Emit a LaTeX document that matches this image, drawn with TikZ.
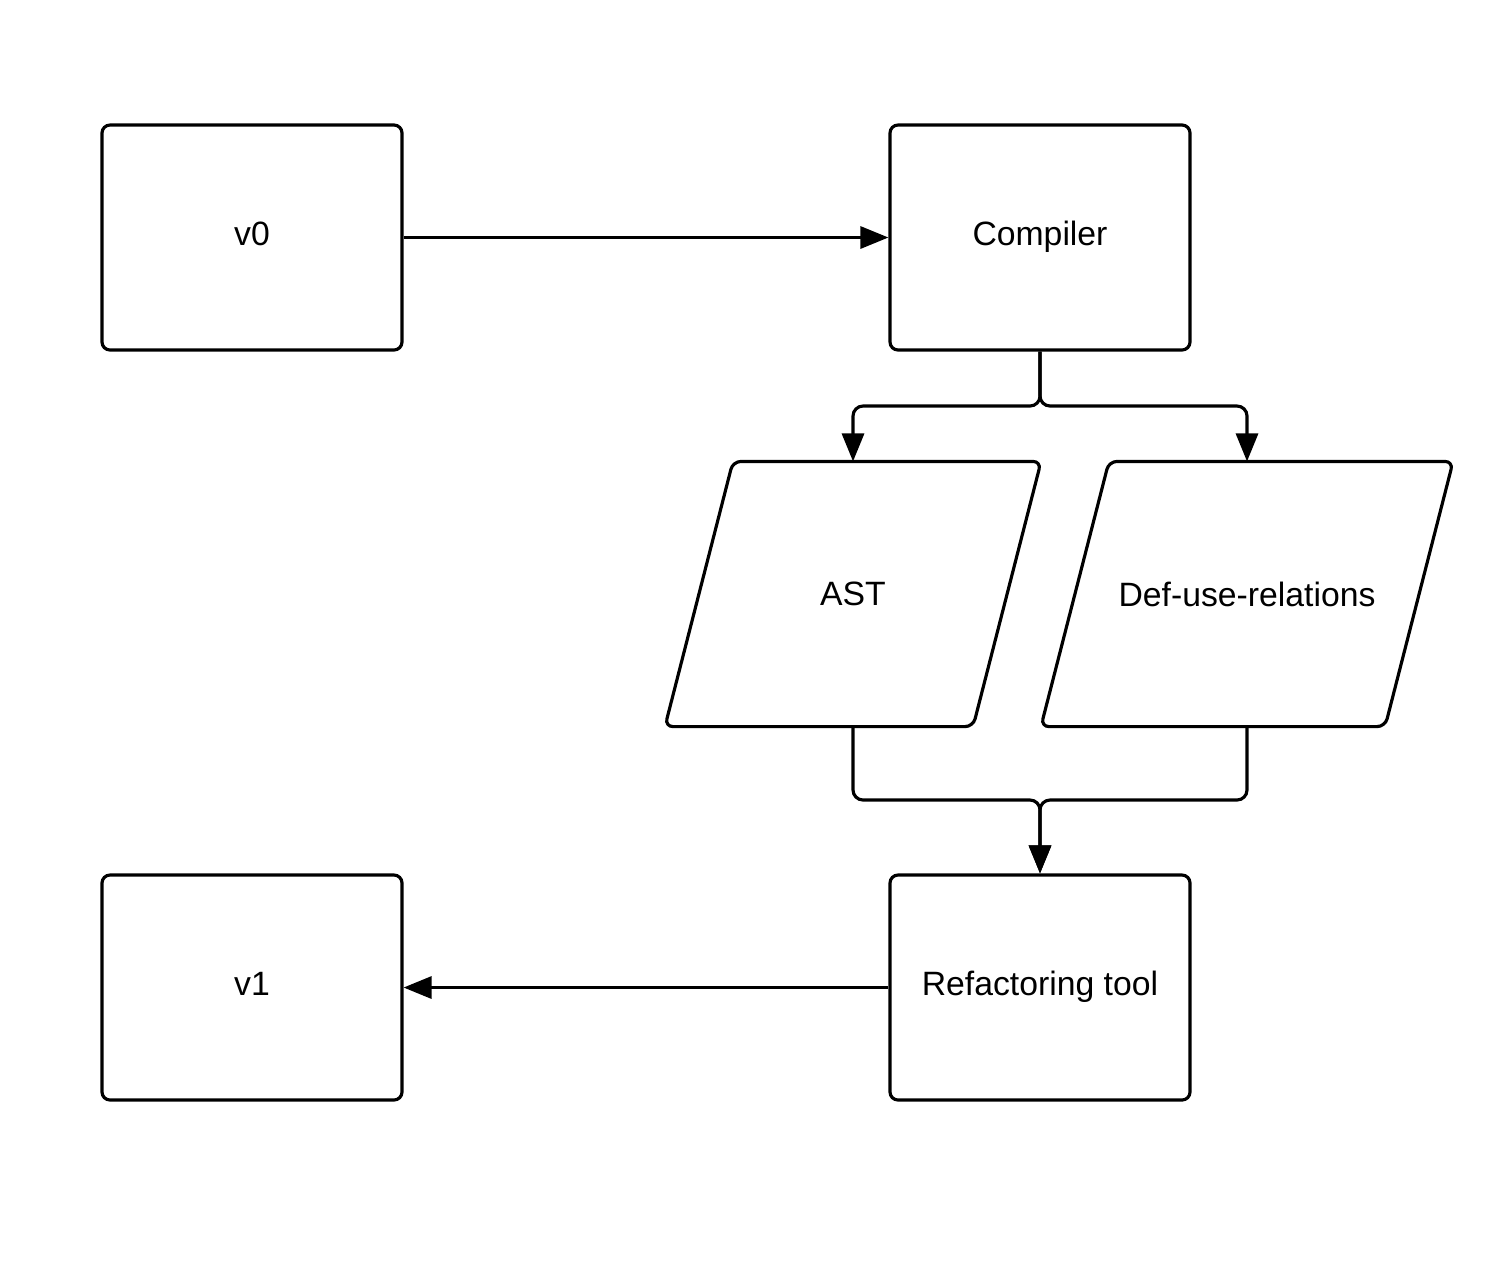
\documentclass[tikz,border=0pt]{standalone}
\usepackage{fontspec}
\setmainfont{Liberation Sans}
\usetikzlibrary{arrows.meta}

\tikzset{
    box/.style={draw, rounded corners=0.08cm, minimum width=3cm, minimum height=2.25cm, inner sep=0pt,
        text height=0.25cm, text depth=0.1cm},
    data/.style={minimum width=3.05cm, minimum height=2.62cm, inner sep=0pt},
    conn/.style={rounded corners=0.1cm},
    arr/.style={conn, -{Triangle[length=2.8mm, width=2.2mm]}}
}

\begin{document}
\begin{tikzpicture}[line width=0.9pt, font=\fontsize{9.6pt}{11pt}\selectfont]
    \useasboundingbox (0,0) rectangle (15.05,-12.72);

    % Versions and tools
    \node[box] (v0) at (2.52,-2.375) {v0};
    \node[box] (comp) at (10.40,-2.375) {Compiler};
    \node[box] (v1) at (2.52,-9.875) {v1};
    \node[box] (refac) at (10.40,-9.875) {Refactoring tool};

    % Compiler output
    \node[data] (ast) at (8.53,-5.94) {AST};
    \node[data] (defuse) at (12.47,-5.94) [minimum width=3.41cm] {Def-use-relations};
    \draw[rounded corners=0.08cm] ([xshift=-0.34cm]ast.south west) -- ([xshift=0.34cm]ast.north west)
        -- ([xshift=0.34cm]ast.north east) -- ([xshift=-0.34cm]ast.south east) -- cycle;
    \draw[rounded corners=0.08cm] ([xshift=-0.34cm]defuse.south west) -- ([xshift=0.34cm]defuse.north west)
        -- ([xshift=0.34cm]defuse.north east) -- ([xshift=-0.34cm]defuse.south east) -- cycle;

    \coordinate (split) at (10.40,-4.06);
    \coordinate (merge) at (10.40,-8.00);

    % Connectors
    \draw[arr] (v0) -- (comp);
    \draw[arr] (comp.south) -- (split) -| (ast.north);
    \draw[arr] (comp.south) -- (split) -| (defuse.north);
    \draw[arr] (ast.south) |- (merge) -- (refac.north);
    \draw[arr] (defuse.south) |- (merge) -- (refac.north);
    \draw[arr] (refac) -- (v1);
\end{tikzpicture}
\end{document}
